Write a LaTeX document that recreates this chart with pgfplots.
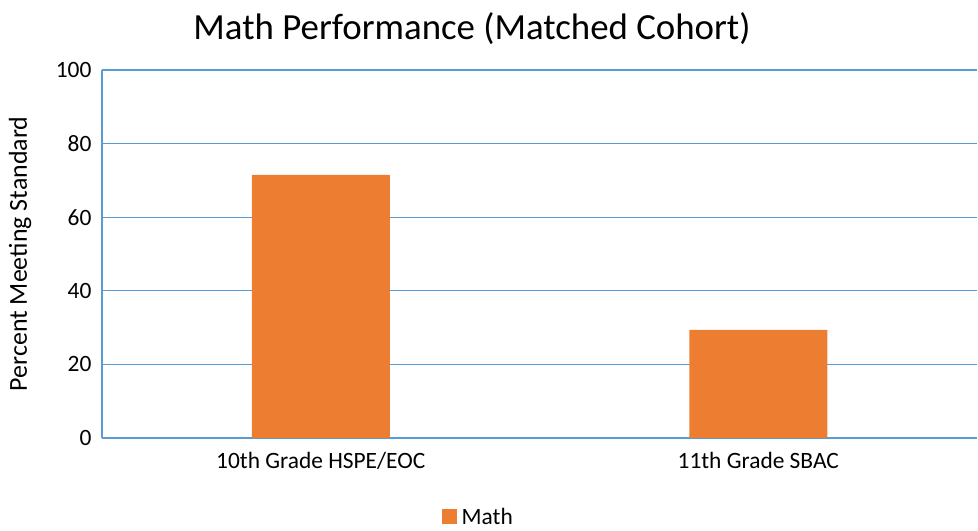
\documentclass[border=0pt]{standalone}
\usepackage{pgfplots}
\pgfplotsset{compat=1.18}
\usepackage{fontspec}
\setmainfont{Carlito}
\definecolor{gridblue}{HTML}{5B9BD5}
\definecolor{barorange}{HTML}{ED7D31}
\begin{document}
\begin{tikzpicture}[x=1bp,y=1bp]
\path[use as bounding box] (-102,-93) rectangle (876,438);
\begin{axis}[
  at={(0,0)}, anchor=south west,
  scale only axis,
  width=875bp, height=368bp,
  xmin=-0.5, xmax=1.5,
  ymin=0, ymax=100,
  ytick={0,20,...,100},
  xtick={0,1},
  xticklabels={10th Grade HSPE/EOC, 11th Grade SBAC},
  ymajorgrids,
  grid style={gridblue, line width=1.1pt},
  axis line style={gridblue, line width=1.1pt},
  axis x line*=bottom,
  axis y line*=left,
  major tick length=0pt,
  tick style={draw=none},
  /pgf/number format/assume math mode=true,
  ticklabel style={font=\fontsize{23.5}{26}\selectfont, text=black},
  yticklabel style={xshift=-7bp},
  xticklabel style={yshift=-11bp},
  ylabel={Percent Meeting Standard},
  ylabel style={font=\fontsize{26}{28}\selectfont, at={(-82bp,184bp)}, anchor=center},
  ybar, bar width=138bp,
  legend style={at={(0.43,-0.215)}, anchor=center, draw=none, font=\fontsize{23.5}{26}\selectfont, legend cell align=left, inner sep=0pt},
  legend image code/.code={\fill[#1] (0bp,-7bp) rectangle (15bp,8bp); \path (18bp,0bp);},
  clip=false,
]
\addplot[fill=barorange, draw=none] coordinates {(0,71.5) (1,29.4)};
\addlegendentry{Math}
\end{axis}
\node[font=\fontsize{37}{40}\selectfont, anchor=base] at (370,398) {Math Performance (Matched Cohort)};
\end{tikzpicture}
\end{document}
